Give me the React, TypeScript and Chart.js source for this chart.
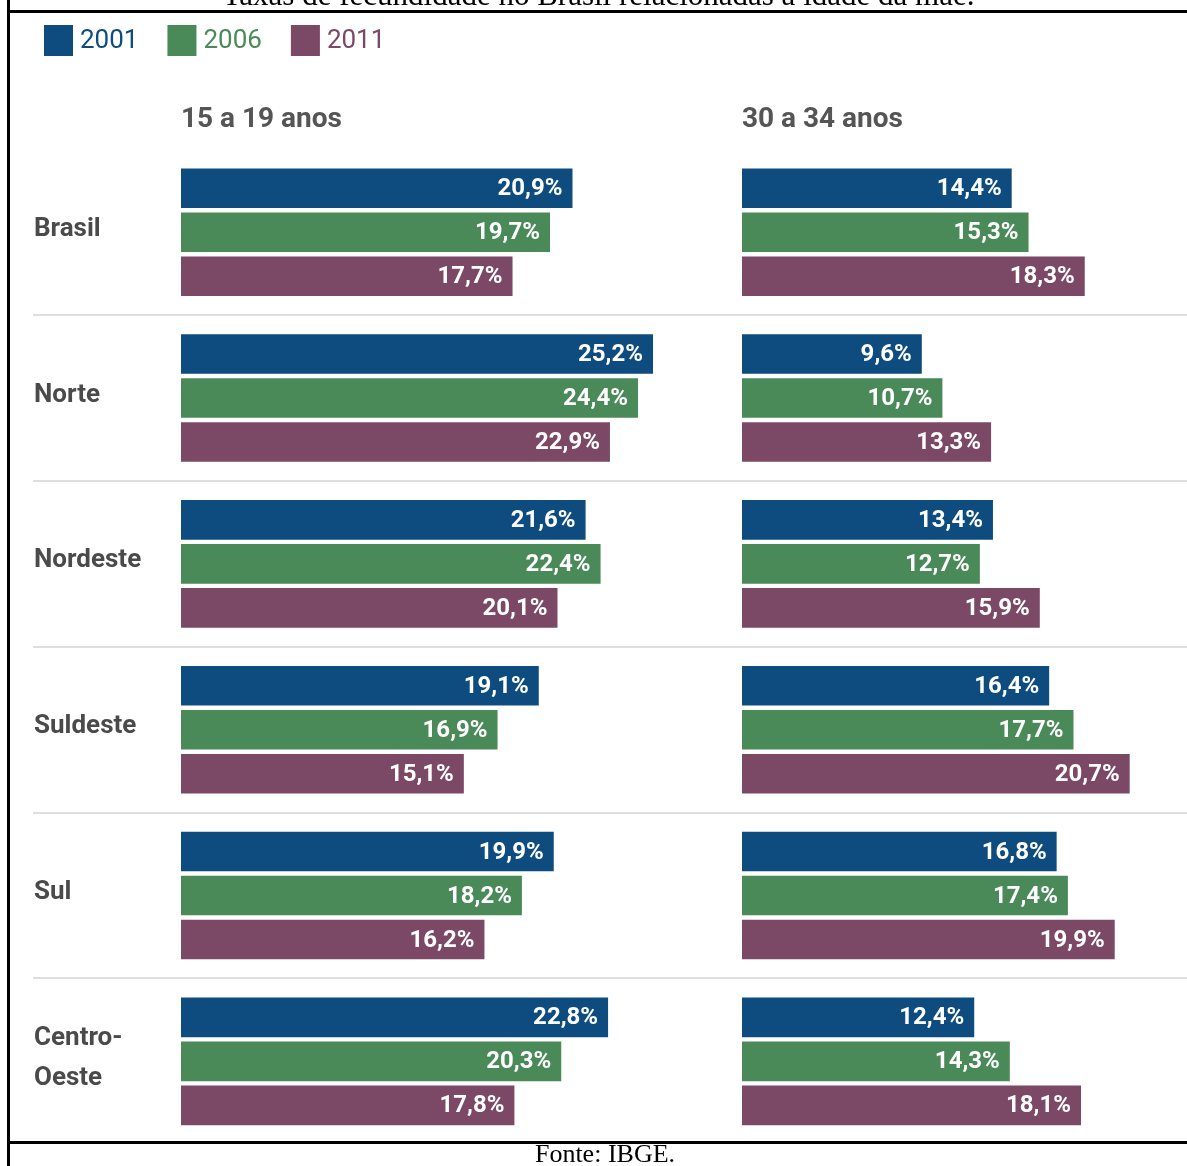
import React, { useEffect, useRef } from 'react';
import { Chart, registerables } from 'chart.js';

Chart.register(...registerables);

// ---- data ----
const regions: (string | string[])[] = ['Brasil', 'Norte', 'Nordeste', 'Suldeste', 'Sul', ['Centro-', 'Oeste']];
const years = ['2001', '2006', '2011'];
const groupTitles = ['15 a 19 anos', '30 a 34 anos'];
const teen2001 = [20.9, 25.2, 21.6, 19.1, 19.9, 22.8];
const teen2006 = [19.7, 24.4, 22.4, 16.9, 18.2, 20.3];
const teen2011 = [17.7, 22.9, 20.1, 15.1, 16.2, 17.8];
const thirty2001 = [14.4, 9.6, 13.4, 16.4, 16.8, 12.4];
const thirty2006 = [15.3, 10.7, 12.7, 17.7, 17.4, 14.3];
const thirty2011 = [18.3, 13.3, 15.9, 20.7, 19.9, 18.1];
const chartTitle = 'Taxas de fecundidade no Brasil relacionadas à idade da mãe.';
const sourceText = 'Fonte: IBGE.';

// ---- styles ----
const colors = ['#0e4c7f', '#4a8a59', '#7b4865'];
const FONT = "Roboto, 'Noto Sans', sans-serif";
const SERIF = "'Liberation Serif', 'Times New Roman', serif";

const fmt = (v: number) => v.toFixed(1).replace('.', ',') + '%';

const valueLabels = {
  id: 'valueLabels',
  afterDatasetsDraw(chart: any) {
    const ctx = chart.ctx;
    ctx.save();
    ctx.font = `bold 24px ${FONT}`;
    ctx.fillStyle = '#ffffff';
    ctx.textAlign = 'right';
    ctx.textBaseline = 'middle';
    chart.data.datasets.forEach((ds: any, i: number) => {
      const meta = chart.getDatasetMeta(i);
      meta.data.forEach((bar: any, j: number) => {
        ctx.fillText(fmt(ds.data[j]), bar.x - 10, bar.y + 1);
      });
    });
    ctx.restore();
  },
};

const yearLegend = {
  id: 'yearLegend',
  afterDraw(chart: any) {
    const ctx = chart.ctx;
    ctx.save();
    ctx.font = `26px ${FONT}`;
    ctx.textBaseline = 'middle';
    ctx.textAlign = 'left';
    let x = 44;
    const y = 25;
    const bw = 29;
    const bh = 31;
    for (let i = 0; i < years.length; i++) {
      const ds = chart.data.datasets[i];
      ctx.fillStyle = ds.backgroundColor;
      ctx.fillRect(x, y, bw, bh);
      ctx.fillText(ds.label, x + bw + 7, y + bh / 2 + 1);
      x += bw + 7 + ctx.measureText(ds.label).width + 29;
    }
    ctx.restore();
  },
};

const sepColor = (c: any) =>
  c.index === undefined || c.index === 0 ? 'rgba(0,0,0,0)' : '#dedede';

const xAxis = (title: string, weight: number, max: number) => ({
  axis: 'x',
  type: 'linear',
  position: 'top',
  stack: 'cols',
  stackWeight: weight,
  stacked: false,
  min: 0,
  max,
  grid: { display: false, drawTicks: false },
  border: { display: false },
  ticks: { display: false },
  title: {
    display: true,
    text: title,
    align: 'start',
    color: '#555555',
    font: { family: FONT, size: 28, weight: 'bold', lineHeight: 1.2 },
    padding: { top: 11, bottom: 12.7 },
  },
});

export default function App() {
  const canvasRef = useRef<HTMLCanvasElement | null>(null);

  useEffect(() => {
    if (!canvasRef.current) return;
    const mk = (label: string, data: number[], axis: string, idx: number) => ({
      label,
      data,
      xAxisID: axis,
      yAxisID: 'y',
      stack: 's' + idx,
      backgroundColor: colors[idx],
      borderWidth: 0,
      barPercentage: 0.9,
      categoryPercentage: 0.796,
    });
    const chart = new Chart(canvasRef.current, {
      type: 'bar',
      data: {
        labels: regions as any,
        datasets: [
          mk(years[0], teen2001, 'x1', 0),
          mk(years[1], teen2006, 'x1', 1),
          mk(years[2], teen2011, 'x1', 2),
          mk(years[0], thirty2001, 'x2', 0),
          mk(years[1], thirty2006, 'x2', 1),
          mk(years[2], thirty2011, 'x2', 2),
        ],
      },
      options: {
        indexAxis: 'y',
        animation: false,
        responsive: false,
        layout: { padding: { left: 34, right: 0, top: 92, bottom: 21.7 } },
        plugins: {
          legend: { display: false },
          tooltip: { enabled: false },
          title: { display: false },
        },
        scales: {
          x2: xAxis(groupTitles[1], 445, 23.76) as any,
          x1: xAxis(groupTitles[0], 561, 29.95) as any,
          y: {
            type: 'category',
            offset: true,
            grid: {
              offset: true,
              color: sepColor,
              tickColor: sepColor,
              lineWidth: 2,
              tickLength: 148,
              drawTicks: true,
              drawOnChartArea: true,
            },
            border: { display: false },
            ticks: {
              crossAlign: 'far',
              autoSkip: false,
              padding: 0,
              labelOffset: -3,
              color: '#4a4a4a',
              font: { family: FONT, size: 26, weight: 'bold', lineHeight: 1.55 },
            },
            afterFit: (s: any) => {
              s.width = 147;
            },
          } as any,
        },
      } as any,
      plugins: [valueLabels, yearLegend],
    });
    return () => chart.destroy();
  }, []);

  const line = (style: React.CSSProperties) => (
    <div style={{ position: 'absolute', background: '#000', ...style }} />
  );

  return (
    <div style={{ position: 'absolute', left: 0, top: 0, width: 1187, height: 1166, overflow: 'hidden', background: '#fff' }}>
      <canvas
        ref={canvasRef}
        width={1187}
        height={1166}
        style={{ position: 'absolute', left: 0, top: 0, width: 1187, height: 1166 }}
      />
      <div
        style={{
          position: 'absolute',
          left: 98.5,
          width: 1000,
          top: -21,
          textAlign: 'center',
          fontFamily: SERIF,
          fontSize: 31,
          lineHeight: '31px',
          color: '#000',
          whiteSpace: 'nowrap',
        }}
      >
        {chartTitle}
      </div>
      <div
        style={{
          position: 'absolute',
          left: 305,
          width: 600,
          top: 1141.2,
          textAlign: 'center',
          fontFamily: SERIF,
          fontSize: 26,
          lineHeight: '26px',
          color: '#000',
          whiteSpace: 'nowrap',
        }}
      >
        {sourceText}
      </div>
      {line({ left: 7, top: 0, width: 3, height: 1166 })}
      {line({ left: 7, top: 10, width: 1180, height: 3 })}
      {line({ left: 7, top: 1141, width: 1180, height: 3 })}
    </div>
  );
}
